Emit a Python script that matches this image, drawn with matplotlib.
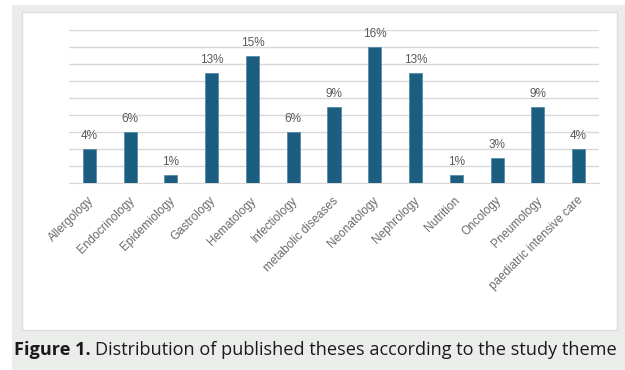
import matplotlib.pyplot as plt
import matplotlib.transforms as mtransforms
from matplotlib.patches import Rectangle

# Données (en %)
themes = ['Allergology', 'Endocrinology', 'Epidemiology', 'Gastrology', 'Hematology',
          'Infectiology', 'metabolic diseases', 'Neonatology', 'Nephrology', 'Nutrition',
          'Oncology', 'Pneumology', 'paediatric intensive care']
percent = [4, 6, 1, 13, 15, 6, 9, 16, 13, 1, 3, 9, 4]
yticks = [0, 2, 4, 6, 8, 10, 12, 14, 16, 18]

W, H = 625, 370
fig = plt.figure(figsize=(W / 100, H / 100), dpi=100)
fig.patch.set_facecolor('white')

# fond gris et cadre blanc
fig.patches.append(Rectangle((12 / W, 0), 1 - 12 / W, 1 - 5 / H, transform=fig.transFigure,
                             facecolor='#ebedeb', edgecolor='none', zorder=0))
fig.patches.append(Rectangle((22 / W, 1 - 330 / H), (617 - 22) / W, (330 - 12) / H,
                             transform=fig.transFigure, facecolor='white',
                             edgecolor='#dcdedc', linewidth=1, zorder=1))

ax = fig.add_axes([69 / W, 1 - 183 / H, (599 - 69) / W, (183 - 30) / H])
ax.set_facecolor('none')
ax.set_zorder(2)

x = range(len(themes))
ax.bar(x, percent, width=0.32, color='#1b5e82', edgecolor='#4f86a3', linewidth=0.5, zorder=3)

for xi, v in zip(x, percent):
    ax.annotate(f'{v}%', (xi, v), xytext=(0, 5), textcoords='offset points',
                ha='center', va='bottom', fontsize=8.5, color='#595959',
                family='Liberation Sans', annotation_clip=False)

ax.set_xlim(-0.5, len(themes) - 0.5)
ax.set_ylim(0, 18)
ax.set_yticks(yticks)
ax.yaxis.grid(True, color='#d9d9d9', linewidth=1)
ax.set_axisbelow(True)
ax.tick_params(axis='y', left=False, labelleft=False)
ax.tick_params(axis='x', length=0, pad=4)
ax.set_xticks(list(x))
ax.set_xticklabels(themes, rotation=45, ha='right', rotation_mode='anchor',
                   fontsize=8.5, color='#6a6a6a', family='Liberation Sans')
shift = mtransforms.ScaledTranslation(-2 / 100, -6 / 100, fig.dpi_scale_trans)
for lab in ax.get_xticklabels():
    lab.set_transform(lab.get_transform() + shift)
for s in ['top', 'right', 'left']:
    ax.spines[s].set_visible(False)
ax.spines['bottom'].set_color('#d9d9d9')

# légende de la figure : partie en gras puis texte normal
y_cap = 1 - 350 / H
t1 = fig.text(14 / W, y_cap, 'Figure 1.', fontsize=13.1, fontweight='bold', va='center',
              ha='left', family='Open Sans', color='#1a1a1a')
fig.canvas.draw()
bb = t1.get_window_extent()
fig.text((bb.x1 + 4) / W, y_cap, 'Distribution of published theses according to the study theme',
         fontsize=13.1, va='center', ha='left', family='Open Sans', color='#1a1a1a')

fig.savefig('out.png', dpi=100)
